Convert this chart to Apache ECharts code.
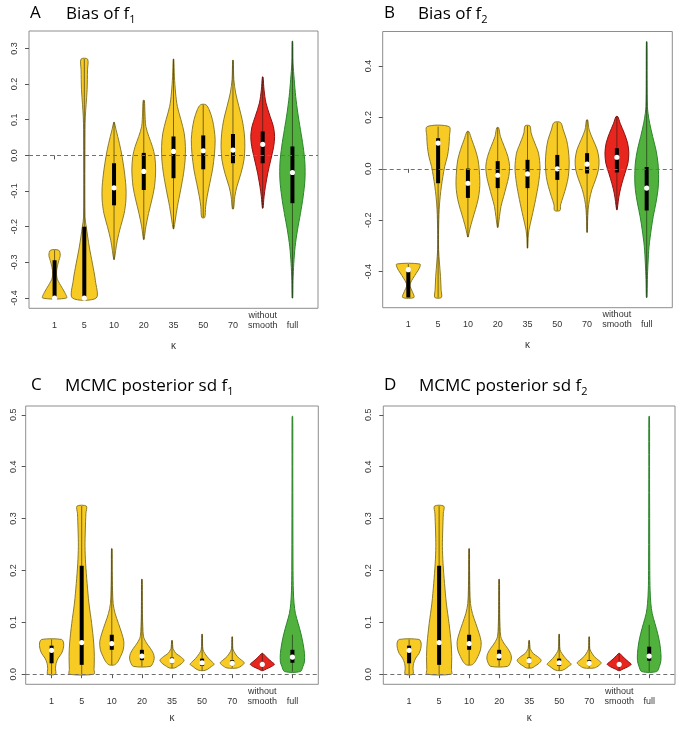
<!DOCTYPE html>
<html>
<head>
<meta charset="utf-8">
<script src="https://cdn.jsdelivr.net/npm/echarts@6/dist/echarts.min.js"></script>
<style>
html, body { margin: 0; padding: 0; background: #fff; }
#chart { width: 680px; height: 729px; }
</style>
</head>
<body>
<div id="chart"></div>
<script>
// groups on the x axis (kappa)
var categories = ['1', '5', '10', '20', '35', '50', '70', 'without\nsmooth', 'full'];

var ticksBiasF1 = [-0.4, -0.3, -0.2, -0.1, 0, 0.1, 0.2, 0.3];
var ticksBiasF2 = [-0.4, -0.2, 0, 0.2, 0.4];
var ticksSd = [0, 0.1, 0.2, 0.3, 0.4, 0.5];

// violin outlines: [value, half width] from top to bottom
var biasF1Profiles = [
    [[-0.266, 0.14], [-0.280, 0.19], [-0.299, 0.13], [-0.322, 0.07], [-0.344, 0.08], [-0.364, 0.20], [-0.384, 0.34], [-0.400, 0.40]],
    [[0.270, 0.11], [0.240, 0.108], [0.184, 0.094], [0.142, 0.06], [0.108, 0.034], [0.072, 0.024], [-0.173, 0.024], [-0.201, 0.067], [-0.257, 0.168], [-0.302, 0.27], [-0.350, 0.37], [-0.400, 0.40]],
    [[0.093, 0.01], [0.072, 0.067], [0.034, 0.18], [-0.003, 0.27], [-0.041, 0.34], [-0.088, 0.40], [-0.125, 0.40], [-0.163, 0.34], [-0.200, 0.22], [-0.238, 0.11], [-0.266, 0.056], [-0.292, 0.01]],
    [[0.154, 0.02], [0.119, 0.04], [0.081, 0.07], [0.053, 0.17], [0.025, 0.29], [-0.003, 0.37], [-0.041, 0.40], [-0.088, 0.36], [-0.125, 0.27], [-0.163, 0.16], [-0.200, 0.07], [-0.236, 0.01]],
    [[0.270, 0.01], [0.222, 0.03], [0.175, 0.07], [0.137, 0.13], [0.100, 0.25], [0.062, 0.36], [0.025, 0.40], [-0.013, 0.39], [-0.050, 0.34], [-0.097, 0.24], [-0.144, 0.13], [-0.181, 0.06], [-0.206, 0.01]],
    [[0.142, 0.09], [0.128, 0.20], [0.100, 0.31], [0.072, 0.37], [0.044, 0.40], [0.006, 0.38], [-0.041, 0.31], [-0.078, 0.22], [-0.116, 0.13], [-0.144, 0.08], [-0.174, 0.05]],
    [[0.267, 0.01], [0.212, 0.03], [0.175, 0.09], [0.137, 0.20], [0.100, 0.31], [0.062, 0.38], [0.025, 0.40], [-0.013, 0.37], [-0.050, 0.27], [-0.088, 0.13], [-0.116, 0.06], [-0.150, 0.02]],
    [[0.220, 0.01], [0.184, 0.045], [0.147, 0.11], [0.109, 0.25], [0.081, 0.36], [0.053, 0.40], [0.025, 0.37], [-0.013, 0.27], [-0.050, 0.17], [-0.088, 0.09], [-0.116, 0.045], [-0.148, 0.01]],
    [[0.320, 0.01], [0.259, 0.02], [0.212, 0.06], [0.165, 0.11], [0.119, 0.18], [0.072, 0.27], [0.025, 0.36], [-0.022, 0.42], [-0.069, 0.42], [-0.116, 0.36], [-0.163, 0.27], [-0.209, 0.17], [-0.256, 0.09], [-0.303, 0.045], [-0.350, 0.02], [-0.400, 0.01]]
];
// [lower whisker, q1, median, q3, upper whisker]
var biasF1Stats = [
    [-0.400, -0.400, -0.400, -0.294, -0.266],
    [-0.400, -0.400, -0.400, -0.200, 0.270],
    [-0.292, -0.140, -0.091, -0.022, 0.093],
    [-0.236, -0.097, -0.045, 0.007, 0.154],
    [-0.206, -0.064, 0.011, 0.053, 0.270],
    [-0.174, -0.039, 0.013, 0.056, 0.142],
    [-0.150, -0.022, 0.015, 0.060, 0.267],
    [-0.148, -0.022, 0.031, 0.067, 0.220],
    [-0.400, -0.134, -0.048, 0.025, 0.320]
];

var biasF2Profiles = [
    [[-0.370, 0.39], [-0.386, 0.37], [-0.405, 0.27], [-0.425, 0.16], [-0.444, 0.07], [-0.457, 0.06], [-0.476, 0.13], [-0.500, 0.19]],
    [[0.164, 0.37], [0.126, 0.38], [0.087, 0.36], [0.048, 0.31], [0.009, 0.22], [-0.030, 0.16], [-0.068, 0.11], [-0.107, 0.07], [-0.159, 0.035], [-0.237, 0.017], [-0.314, 0.017], [-0.366, 0.045], [-0.418, 0.08], [-0.470, 0.10], [-0.500, 0.11]],
    [[0.145, 0.03], [0.113, 0.13], [0.074, 0.25], [0.035, 0.34], [-0.004, 0.38], [-0.049, 0.40], [-0.081, 0.39], [-0.120, 0.34], [-0.159, 0.25], [-0.198, 0.15], [-0.237, 0.06], [-0.265, 0.01]],
    [[0.160, 0.03], [0.126, 0.09], [0.087, 0.22], [0.048, 0.34], [0.009, 0.40], [-0.030, 0.37], [-0.068, 0.29], [-0.107, 0.20], [-0.146, 0.11], [-0.185, 0.06], [-0.228, 0.01]],
    [[0.167, 0.08], [0.140, 0.12], [0.113, 0.20], [0.087, 0.29], [0.061, 0.37], [0.003, 0.42], [-0.056, 0.37], [-0.120, 0.27], [-0.185, 0.15], [-0.237, 0.05], [-0.270, 0.02], [-0.308, 0.01]],
    [[0.180, 0.11], [0.151, 0.20], [0.113, 0.31], [0.074, 0.37], [0.022, 0.40], [-0.030, 0.37], [-0.068, 0.30], [-0.107, 0.20], [-0.140, 0.11], [-0.162, 0.09]],
    [[0.190, 0.02], [0.151, 0.07], [0.113, 0.20], [0.074, 0.34], [0.035, 0.40], [-0.004, 0.38], [-0.043, 0.28], [-0.081, 0.16], [-0.120, 0.08], [-0.159, 0.035], [-0.204, 0.017], [-0.247, 0.01]],
    [[0.203, 0.03], [0.177, 0.11], [0.138, 0.25], [0.100, 0.36], [0.061, 0.40], [0.022, 0.37], [-0.017, 0.27], [-0.056, 0.17], [-0.094, 0.09], [-0.127, 0.045], [-0.159, 0.01]],
    [[0.494, 0.01], [0.346, 0.015], [0.242, 0.025], [0.216, 0.045], [0.177, 0.10], [0.126, 0.20], [0.074, 0.31], [0.022, 0.38], [-0.036, 0.40], [-0.081, 0.38], [-0.133, 0.31], [-0.185, 0.22], [-0.237, 0.15], [-0.301, 0.08], [-0.366, 0.045], [-0.431, 0.022], [-0.500, 0.01]]
];
var biasF2Stats = [
    [-0.500, -0.500, -0.392, -0.392, -0.370],
    [-0.500, -0.056, 0.100, 0.119, 0.164],
    [-0.265, -0.113, -0.056, 0.001, 0.145],
    [-0.228, -0.075, -0.025, 0.030, 0.160],
    [-0.308, -0.075, -0.020, 0.035, 0.167],
    [-0.162, -0.043, 0.000, 0.054, 0.180],
    [-0.247, -0.018, 0.018, 0.061, 0.190],
    [-0.159, -0.014, 0.045, 0.080, 0.203],
    [-0.500, -0.162, -0.075, 0.007, 0.494]
];

var sdF1Profiles = [
    [[0.067, 0.33], [0.060, 0.40], [0.050, 0.39], [0.040, 0.33], [0.031, 0.22], [0.021, 0.15], [0.011, 0.13], [0.000, 0.13]],
    [[0.324, 0.155], [0.310, 0.14], [0.278, 0.12], [0.246, 0.11], [0.214, 0.13], [0.175, 0.18], [0.137, 0.24], [0.098, 0.33], [0.060, 0.40], [0.034, 0.42], [0.009, 0.41], [0.000, 0.41]],
    [[0.242, 0.01], [0.200, 0.015], [0.162, 0.025], [0.136, 0.045], [0.117, 0.11], [0.098, 0.22], [0.079, 0.33], [0.063, 0.40], [0.047, 0.38], [0.034, 0.29], [0.024, 0.20], [0.018, 0.09]],
    [[0.183, 0.01], [0.140, 0.015], [0.110, 0.02], [0.092, 0.03], [0.072, 0.055], [0.060, 0.155], [0.050, 0.28], [0.040, 0.38], [0.031, 0.41], [0.022, 0.37], [0.015, 0.28]],
    [[0.065, 0.01], [0.050, 0.03], [0.047, 0.055], [0.040, 0.13], [0.034, 0.28], [0.027, 0.40], [0.021, 0.33], [0.015, 0.18], [0.012, 0.09]],
    [[0.077, 0.01], [0.060, 0.015], [0.047, 0.03], [0.040, 0.09], [0.030, 0.22], [0.024, 0.33], [0.019, 0.40], [0.015, 0.31], [0.009, 0.17], [0.007, 0.06]],
    [[0.072, 0.01], [0.050, 0.02], [0.044, 0.055], [0.034, 0.17], [0.027, 0.31], [0.022, 0.40], [0.017, 0.33], [0.012, 0.17]],
    [[0.040, 0.02], [0.031, 0.17], [0.024, 0.31], [0.019, 0.40], [0.014, 0.28], [0.010, 0.13], [0.007, 0.03]],
    [[0.497, 0.01], [0.400, 0.012], [0.300, 0.015], [0.200, 0.02], [0.162, 0.03], [0.136, 0.055], [0.117, 0.10], [0.098, 0.19], [0.079, 0.28], [0.060, 0.35], [0.040, 0.40], [0.024, 0.40], [0.015, 0.35], [0.005, 0.26]]
];
var sdF1Stats = [
    [0.000, 0.021, 0.046, 0.055, 0.067],
    [0.000, 0.018, 0.061, 0.209, 0.324],
    [0.018, 0.047, 0.059, 0.076, 0.242],
    [0.015, 0.027, 0.035, 0.047, 0.183],
    [0.012, 0.021, 0.026, 0.032, 0.065],
    [0.007, 0.016, 0.022, 0.030, 0.077],
    [0.012, 0.017, 0.021, 0.027, 0.072],
    [0.007, 0.016, 0.019, 0.023, 0.040],
    [0.005, 0.022, 0.033, 0.047, 0.076]
];

// panel D looks the same as C apart from the full model
var sdF2Profiles = sdF1Profiles.slice(0, 8).concat([
    [[0.497, 0.01], [0.400, 0.012], [0.300, 0.015], [0.200, 0.02], [0.162, 0.03], [0.136, 0.055], [0.117, 0.10], [0.098, 0.19], [0.079, 0.28], [0.060, 0.35], [0.040, 0.39], [0.026, 0.39], [0.015, 0.34], [0.005, 0.25]]
]);
var sdF2Stats = sdF1Stats.slice(0, 8).concat([
    [0.005, 0.026, 0.035, 0.053, 0.095]
]);

var fillCol = ['#F7CB24', '#F7CB24', '#F7CB24', '#F7CB24', '#F7CB24', '#F7CB24', '#F7CB24', '#E8261E', '#50B23C'];
var edgeCol = ['#8C7B2C', '#8C7B2C', '#8C7B2C', '#8C7B2C', '#8C7B2C', '#8C7B2C', '#8C7B2C', '#8B1212', '#2B842B'];

var panels = [
    { letter: 'A', title: 'Bias of f', sub: '1', prof: biasF1Profiles, stats: biasF1Stats, ticks: ticksBiasF1,
      min: -0.4288, max: 0.3488, left: 29, top: 31, width: 289, height: 277.3, titleX: 66, letterX: 30, titleY: 3, ylabMargin: 10 },
    { letter: 'B', title: 'Bias of f', sub: '2', prof: biasF2Profiles, stats: biasF2Stats, ticks: ticksBiasF2,
      min: -0.5398, max: 0.5338, left: 382.7, top: 31.5, width: 289.6, height: 276.2, titleX: 418, letterX: 384, titleY: 3, ylabMargin: 10 },
    { letter: 'C', title: 'MCMC posterior sd f', sub: '1', prof: sdF1Profiles, stats: sdF1Stats, ticks: ticksSd,
      min: -0.0195, max: 0.517, left: 25.7, top: 406, width: 292.6, height: 278.3, titleX: 65, letterX: 31, titleY: 375, ylabMargin: 8 },
    { letter: 'D', title: 'MCMC posterior sd f', sub: '2', prof: sdF2Profiles, stats: sdF2Stats, ticks: ticksSd,
      min: -0.0195, max: 0.517, left: 383.3, top: 406, width: 291.7, height: 278.3, titleX: 419, letterX: 384, titleY: 375, ylabMargin: 10 }
];

var xPos = categories.map(function (c, i) { return i + 1; });
var grids = [], xAxes = [], yAxes = [], series = [], titles = [];

panels.forEach(function (p, gi) {
    grids.push({ left: p.left, top: p.top, width: p.width, height: p.height, show: true,
        borderColor: '#8E8E8E', borderWidth: 1, backgroundColor: 'transparent', outerBoundsMode: 'none' });
    xAxes.push({
        gridIndex: gi, type: 'value', min: 0.14, max: 9.86,
        axisLine: { show: false }, splitLine: { show: false },
        axisTick: { show: true, length: 4, customValues: xPos, lineStyle: { color: '#555' } },
        axisLabel: { customValues: xPos, formatter: function (v) { return categories[Math.round(v) - 1]; },
            fontFamily: 'Liberation Sans', fontSize: 9, color: '#333', lineHeight: 10,
            verticalAlign: 'bottom', margin: 22 },
        name: 'κ', nameLocation: 'middle', nameGap: gi < 2 ? 33 : 29,
        nameTextStyle: { fontFamily: 'Liberation Sans', fontSize: 10, color: '#333' }
    });
    yAxes.push({
        gridIndex: gi, type: 'value', min: p.min, max: p.max,
        axisLine: { show: false }, splitLine: { show: false },
        axisTick: { show: true, length: 4, customValues: p.ticks, lineStyle: { color: '#555' } },
        axisLabel: { customValues: p.ticks, rotate: 90, formatter: function (v) { return v.toFixed(1); },
            fontFamily: 'Liberation Sans', fontSize: 9, color: '#333', margin: p.ylabMargin }
    });
    series.push({
        type: 'custom', xAxisIndex: gi, yAxisIndex: gi, z: 2,
        data: xPos.map(function (x, i) { return [x, p.stats[i][2]]; }),
        renderItem: function (params, api) {
            var i = params.dataIndex, x = api.value(0);
            var prof = p.prof[i], st = p.stats[i];
            var right = prof.map(function (d) { return api.coord([x + d[1], d[0]]); });
            var left = prof.slice().reverse().map(function (d) { return api.coord([x - d[1], d[0]]); });
            var hi = api.coord([x, st[4]]), lo = api.coord([x, st[0]]);
            var q3 = api.coord([x, st[3]]), q1 = api.coord([x, st[1]]), med = api.coord([x, st[2]]);
            return { type: 'group', children: [
                { type: 'polygon', shape: { points: right.concat(left), smooth: 0.3 },
                  style: { fill: fillCol[i], stroke: edgeCol[i], lineWidth: 1 } },
                { type: 'line', shape: { x1: hi[0], y1: hi[1], x2: lo[0], y2: lo[1] },
                  style: { stroke: 'rgba(30,30,20,0.6)', lineWidth: 1 } },
                { type: 'rect', shape: { x: q3[0] - 2, y: q3[1], width: 4, height: Math.max(q1[1] - q3[1], 1) },
                  style: { fill: '#000' } },
                { type: 'circle', shape: { cx: med[0], cy: med[1], r: 2.6 }, style: { fill: '#fff' } }
            ] };
        }
    });
    // dashed zero line, drawn over the violins
    series.push({
        type: 'line', xAxisIndex: gi, yAxisIndex: gi, z: 10, data: [], silent: true,
        markLine: { silent: true, symbol: 'none', z: 10, label: { show: false },
            lineStyle: { type: [4, 3], color: '#707070', width: 1.2 },
            data: [{ yAxis: 0 }] }
    });
    titles.push({ text: p.letter, left: p.letterX, top: p.titleY + 2, padding: 0,
        textStyle: { fontFamily: 'Open Sans', fontSize: 17, fontWeight: 'normal', color: '#000' } });
    titles.push({ text: '{m|' + p.title + '}{s|' + p.sub + '}', left: p.titleX, top: p.titleY, padding: 0,
        textStyle: { fontWeight: 'normal', rich: {
            m: { fontFamily: 'Open Sans', fontSize: 17, fontWeight: 'normal', lineHeight: 22, color: '#000' },
            s: { fontFamily: 'Open Sans', fontSize: 11, fontWeight: 'normal', lineHeight: 10, verticalAlign: 'bottom', color: '#000' }
        } } });
});

var chart = echarts.init(document.getElementById('chart'));
chart.setOption({
    backgroundColor: '#fff',
    animation: false,
    title: titles,
    grid: grids,
    xAxis: xAxes,
    yAxis: yAxes,
    series: series
});
</script>
</body>
</html>
